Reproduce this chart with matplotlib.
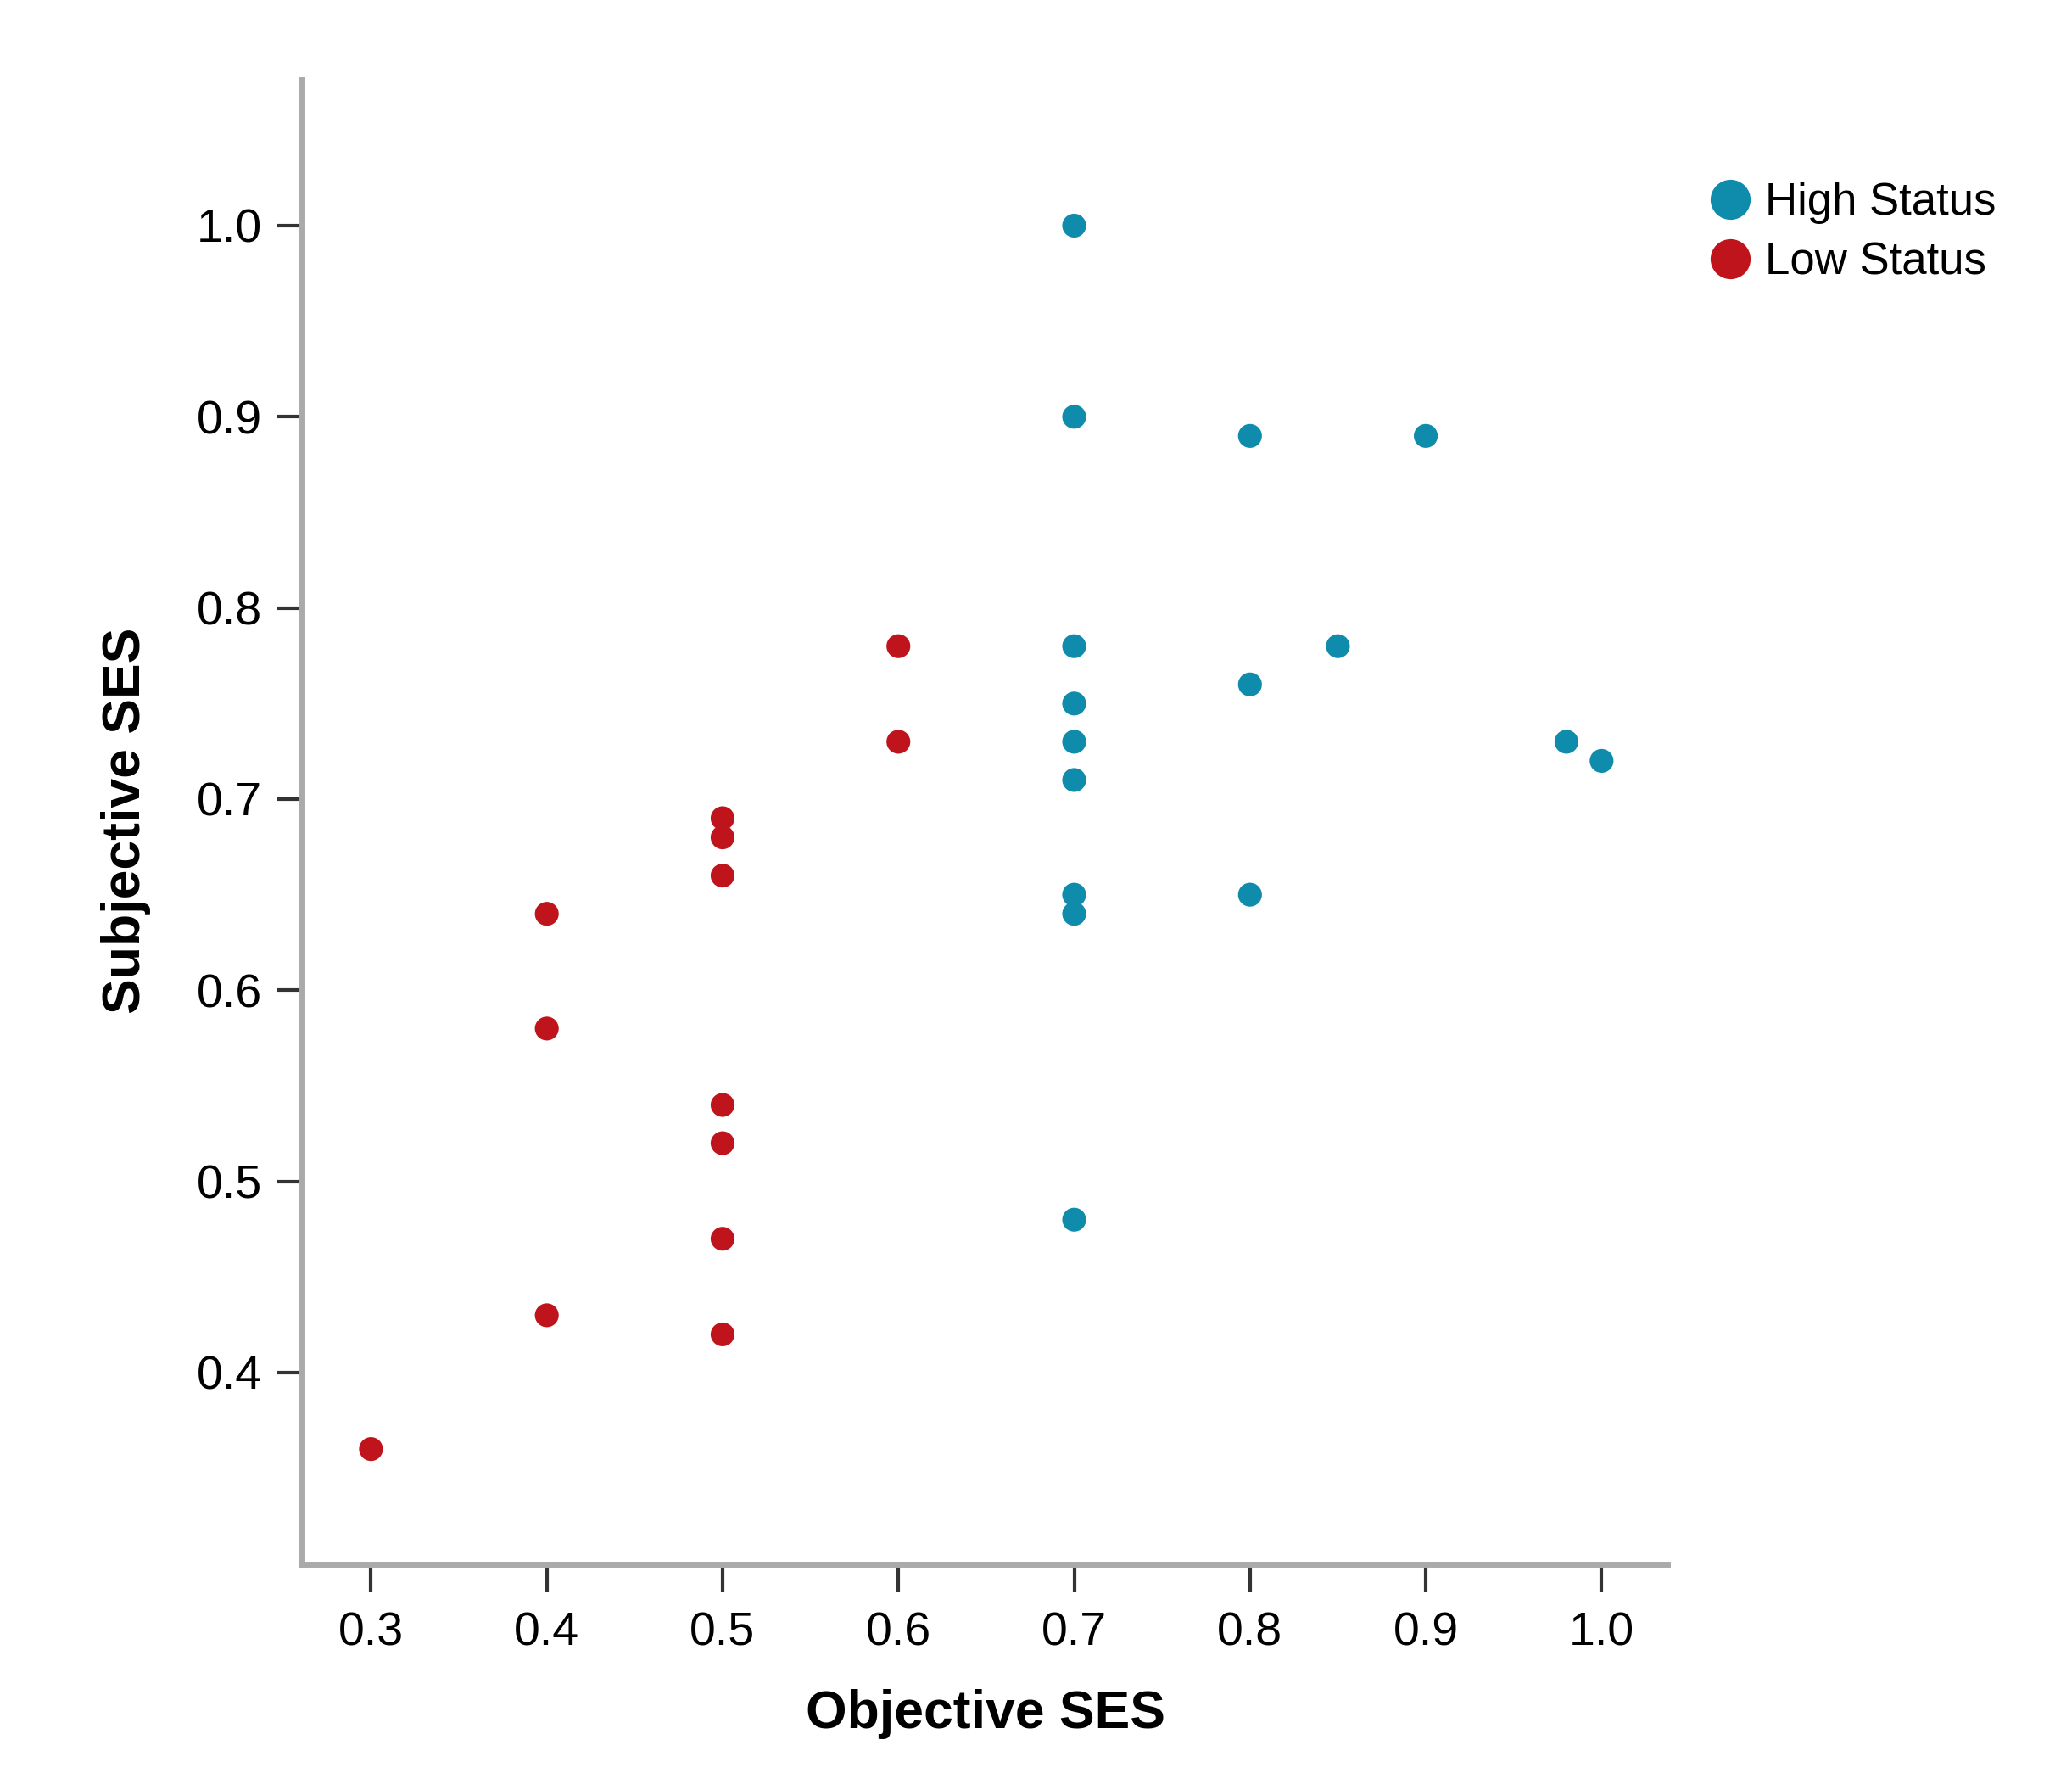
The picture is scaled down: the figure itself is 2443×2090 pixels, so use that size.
#Objective vs Subjective SES scatter

import matplotlib
matplotlib.use("Agg")
import matplotlib.pyplot as plt
from matplotlib.lines import Line2D

#Data

sHighLabel = "High Status"
sLowLabel = "Low Status"

HighX = [0.7, 0.7, 0.8, 0.9, 0.7, 0.85, 0.8, 0.7, 0.7, 0.98, 1.0, 0.7, 0.7, 0.8, 0.7, 0.7]
HighY = [1.0, 0.9, 0.89, 0.89, 0.78, 0.78, 0.76, 0.75, 0.73, 0.73, 0.72, 0.71, 0.65, 0.65, 0.64, 0.48]

LowX = [0.6, 0.6, 0.5, 0.5, 0.5, 0.4, 0.4, 0.5, 0.5, 0.5, 0.4, 0.5, 0.3]
LowY = [0.78, 0.73, 0.69, 0.68, 0.66, 0.64, 0.58, 0.54, 0.52, 0.47, 0.43, 0.42, 0.36]

XTicks = [0.3, 0.4, 0.5, 0.6, 0.7, 0.8, 0.9, 1.0]
YTicks = [0.4, 0.5, 0.6, 0.7, 0.8, 0.9, 1.0]

#Style

sBlue = "#0f8cab"
sRed = "#c0141c"
sAxisGray = "#aaaaaa"
sTickColor = "#333333"
sFont = "Liberation Sans"

#Figure

fig = plt.figure(figsize=(24.43, 20.90), dpi=100)
ax = fig.add_axes([0.1457, 0.1177, 0.8047 - 0.1457, 0.955 - 0.1177])

ax.scatter(HighX, HighY, s=410, color=sBlue, edgecolors="none", zorder=3)
ax.scatter(LowX, LowY, s=410, color=sRed, edgecolors="none", zorder=3)

ax.set_xlim(0.2607, 1.0374)
ax.set_ylim(0.2997, 1.0763)

ax.set_xticks(XTicks)
ax.set_xticklabels(["{:.1f}".format(v) for v in XTicks], fontname=sFont, fontsize=40)
ax.set_yticks(YTicks)
ax.set_yticklabels(["{:.1f}".format(v) for v in YTicks], fontname=sFont, fontsize=40)

ax.tick_params(axis="x", length=24, width=3, color=sTickColor, pad=16)
ax.tick_params(axis="y", length=21, width=3, color=sTickColor, pad=13)

for s in ["top", "right"]:
    ax.spines[s].set_visible(False)
for s in ["left", "bottom"]:
    ax.spines[s].set_color(sAxisGray)
    ax.spines[s].set_linewidth(5)

#Axis titles

fig.text(1162 / 2443, 1 - 2020 / 2090, "Objective SES", fontname=sFont, fontweight="bold",
         fontsize=45, ha="center", va="center")
fig.text(148 / 2443, 1 - 967 / 2090, "Subjective SES", fontname=sFont, fontweight="bold",
         fontsize=45, ha="center", va="center", rotation=90)

#Legend

Handles = [Line2D([], [], marker="o", linestyle="none", markersize=34, color=sBlue, markeredgewidth=0),
           Line2D([], [], marker="o", linestyle="none", markersize=34, color=sRed, markeredgewidth=0)]
fig.legend(Handles, [sHighLabel, sLowLabel], loc="upper left", bbox_to_anchor=(0.8244, 0.8976),
           frameon=False, borderpad=0, borderaxespad=0, handlelength=1.0, handletextpad=0.26,
           labelspacing=0.38, prop={"family": sFont, "size": 38})

plt.savefig("out.png", dpi=100)
plt.close()
